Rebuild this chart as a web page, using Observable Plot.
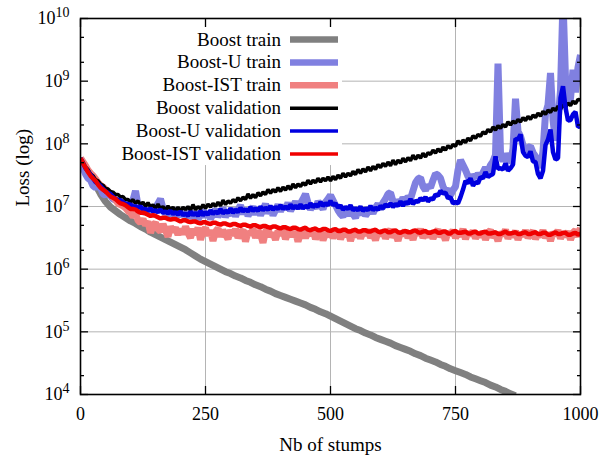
<!DOCTYPE html>
<html><head><meta charset="utf-8">
<script src="https://cdn.jsdelivr.net/npm/d3@7"></script>
<script src="https://cdn.jsdelivr.net/npm/@observablehq/plot@0.6"></script>
<style>body{margin:0;background:#fff}</style>
</head><body><div id="chart"></div>
<script>
// x: number of stumps
const stumps10 = d3.range(0, 1001, 10);   // sampling of the smooth train curve
const stumps5 = d3.range(0, 1001, 5);     // sampling of the noisy curves
// log10(loss)
const boostTrainLog = [7.77,7.60,7.47,7.35,7.20,7.08,6.99,6.93,6.87,6.82,6.77,6.73,6.68,6.64,6.59,6.55,6.51,6.47,6.43,6.39,
6.35,6.31,6.26,6.21,6.16,6.12,6.08,6.04,6.00,5.96,5.93,5.89,5.86,5.82,5.79,5.75,5.72,5.68,5.65,5.61,
5.58,5.55,5.52,5.49,5.46,5.43,5.39,5.36,5.32,5.29,5.25,5.21,5.17,5.13,5.09,5.05,5.02,4.98,4.95,4.91,
4.88,4.85,4.82,4.78,4.75,4.72,4.69,4.65,4.62,4.58,4.55,4.52,4.48,4.45,4.41,4.38,4.35,4.32,4.28,4.25,
4.22,4.19,4.15,4.12,4.08,4.05,4.01,3.98];
const boostUTrainLog = [
7.77,7.62,7.52,7.45,7.42,7.33,7.30,7.34,7.30,7.20,7.18,7.22,7.17,7.12,7.10,7.08,7.07,7.03,7.02,7.05,
7.01,7.10,7.25,7.02,6.94,6.99,6.88,6.96,6.92,6.86,6.98,7.05,7.12,6.97,6.88,6.94,6.85,6.96,6.90,6.84,
6.95,6.84,6.98,6.82,6.90,6.81,6.93,6.80,6.86,6.95,6.83,6.91,6.80,6.88,6.96,6.84,6.90,6.98,6.83,6.92,
6.86,6.97,6.84,6.95,7.02,6.88,6.96,6.85,6.93,7.00,6.87,6.98,6.86,6.95,7.04,6.89,6.97,6.86,6.94,7.03,
6.92,7.02,6.95,7.06,6.93,7.00,7.08,6.97,7.05,7.12,7.20,7.06,6.95,7.03,6.97,7.08,7.02,6.96,7.07,7.12,
7.18,7.10,7.02,6.94,6.88,6.84,6.92,6.86,6.95,6.88,6.82,6.93,6.87,6.96,6.85,6.91,6.97,6.89,6.98,7.04,
6.95,7.06,7.12,7.20,7.22,7.08,7.02,7.10,7.05,7.14,7.08,7.16,7.12,7.25,7.38,7.44,7.46,7.32,7.26,7.34,
7.30,7.42,7.52,7.50,7.45,7.32,7.24,7.28,7.18,7.26,7.32,7.58,7.74,7.66,7.58,7.48,7.42,7.50,7.46,7.52,
7.48,7.54,7.62,7.56,7.66,7.72,7.82,9.28,7.85,7.72,7.84,7.76,7.70,7.92,8.72,8.20,8.12,7.98,7.88,7.94,
7.96,7.86,7.80,7.72,7.62,7.88,8.48,8.62,9.13,8.38,8.05,8.36,8.85,10.3,9.05,8.62,8.72,9.18,8.82,9.22,9.42];
const boostISTTrainLog = [
7.77,7.71,7.65,7.58,7.53,7.49,7.44,7.38,7.34,7.31,7.27,7.23,7.20,7.15,7.11,7.05,7.03,7.01,6.98,6.93,
6.90,6.84,6.88,6.78,6.74,6.80,6.70,6.76,6.58,6.70,6.74,6.64,6.60,6.72,6.62,6.52,6.68,6.60,6.66,6.55,
6.64,6.56,6.68,6.58,6.50,6.64,6.55,6.66,6.47,6.60,6.66,6.54,6.62,6.45,6.60,6.65,6.52,6.62,6.56,6.48,
6.62,6.54,6.64,6.50,6.58,6.63,6.44,6.60,6.55,6.64,6.50,6.61,6.56,6.42,6.60,6.64,6.52,6.58,6.47,6.61,
6.55,6.62,6.48,6.58,6.63,6.52,6.60,6.44,6.57,6.62,6.50,6.59,6.54,6.64,6.48,6.58,6.62,6.46,6.57,6.53,
6.60,6.50,6.58,6.63,6.48,6.57,6.53,6.62,6.45,6.58,6.52,6.61,6.49,6.59,6.55,6.63,6.50,6.57,6.46,6.60,
6.54,6.61,6.49,6.58,6.63,6.51,6.57,6.45,6.60,6.54,6.62,6.50,6.58,6.47,6.61,6.55,6.64,6.50,6.57,6.52,
6.60,6.49,6.58,6.63,6.52,6.57,6.46,6.60,6.55,6.62,6.50,6.58,6.53,6.64,6.48,6.59,6.54,6.61,6.49,6.57,
6.52,6.60,6.47,6.58,6.62,6.51,6.56,6.45,6.59,6.54,6.63,6.49,6.57,6.52,6.61,6.47,6.58,6.53,6.62,6.50,
6.56,6.61,6.48,6.57,6.52,6.62,6.50,6.58,6.45,6.59,6.54,6.62,6.49,6.57,6.53,6.60,6.47,6.58,6.62,6.52,6.66];
const boostValLog = [
7.77,7.71,7.63,7.59,7.52,7.49,7.43,7.41,7.36,7.34,7.29,7.28,7.24,7.23,7.19,7.19,7.15,7.16,7.11,7.11,
7.07,7.11,7.05,7.09,7.03,7.07,7.00,7.06,6.99,7.03,6.97,7.04,6.96,7.00,6.94,7.01,6.95,6.99,6.93,6.99,
6.93,6.99,6.95,7.00,6.94,7.03,6.95,7.00,6.96,7.03,6.97,7.04,6.99,7.05,7.00,7.07,7.01,7.10,7.03,7.09,
7.05,7.11,7.07,7.14,7.09,7.15,7.11,7.20,7.13,7.19,7.14,7.22,7.17,7.23,7.19,7.27,7.21,7.27,7.23,7.30,
7.24,7.31,7.26,7.33,7.27,7.36,7.30,7.36,7.32,7.38,7.34,7.42,7.36,7.42,7.38,7.45,7.39,7.45,7.41,7.47,
7.41,7.48,7.43,7.50,7.45,7.53,7.47,7.53,7.49,7.56,7.51,7.59,7.53,7.60,7.55,7.63,7.57,7.64,7.59,7.67,
7.62,7.69,7.64,7.71,7.65,7.74,7.67,7.74,7.69,7.77,7.71,7.78,7.73,7.82,7.75,7.82,7.77,7.85,7.79,7.86,
7.83,7.90,7.85,7.92,7.87,7.95,7.90,7.97,7.93,7.99,7.96,8.05,7.99,8.06,8.02,8.09,8.05,8.13,8.09,8.15,
8.12,8.19,8.16,8.23,8.19,8.27,8.22,8.29,8.25,8.31,8.27,8.35,8.30,8.36,8.33,8.39,8.35,8.42,8.37,8.44,
8.39,8.46,8.42,8.49,8.44,8.52,8.47,8.54,8.50,8.57,8.53,8.60,8.55,8.63,8.58,8.65,8.61,8.68,8.64,8.71,8.70];
const boostUValLog = [
7.77,7.69,7.61,7.56,7.51,7.45,7.39,7.36,7.33,7.28,7.24,7.22,7.20,7.16,7.12,7.11,7.10,7.07,7.04,7.04,
7.03,7.00,7.00,6.98,7.00,6.95,6.96,6.93,6.97,6.92,6.94,6.91,6.95,6.90,6.92,6.89,6.93,6.88,6.91,6.87,
6.92,6.86,6.89,6.85,6.92,6.86,6.90,6.85,6.93,6.86,6.91,6.87,6.94,6.88,6.92,6.89,6.96,6.89,6.93,6.90,
6.97,6.90,6.95,6.91,6.98,6.92,6.96,6.92,6.99,6.93,6.97,6.93,7.00,6.94,6.98,6.95,7.01,6.95,6.99,6.96,
7.02,6.96,7.00,6.96,7.03,6.97,7.01,6.97,7.03,6.97,7.01,6.98,7.05,6.99,7.03,7.00,7.07,7.01,7.05,7.02,
7.09,7.02,7.05,6.98,7.02,6.95,6.99,6.96,7.02,6.94,6.97,6.94,7.00,6.93,6.97,6.94,7.01,6.94,6.98,6.95,
7.01,6.97,7.03,7.00,7.05,6.99,7.04,7.01,7.08,7.01,7.07,7.04,7.12,7.04,7.09,7.07,7.13,7.10,7.15,7.08,
7.13,7.11,7.19,7.17,7.25,7.21,7.22,7.13,7.15,7.05,7.07,7.05,7.15,7.27,7.41,7.37,7.45,7.33,7.39,7.37,
7.47,7.45,7.55,7.47,7.50,7.52,7.80,7.60,7.61,7.59,7.69,7.57,7.61,7.67,8.08,8.07,8.15,7.87,7.81,7.79,
7.88,7.72,7.71,7.52,7.45,7.57,7.98,8.07,8.23,7.87,7.75,7.77,8.73,8.92,8.58,8.37,8.38,8.47,8.51,8.27,8.28];
const boostISTValLog = [
7.77,7.69,7.62,7.55,7.49,7.45,7.41,7.35,7.30,7.27,7.24,7.20,7.16,7.14,7.12,7.08,7.05,7.04,7.02,6.99,
6.96,6.96,6.95,6.92,6.90,6.90,6.89,6.87,6.85,6.86,6.85,6.83,6.81,6.82,6.82,6.80,6.79,6.80,6.80,6.78,
6.76,6.78,6.78,6.76,6.75,6.76,6.76,6.74,6.73,6.75,6.75,6.73,6.72,6.74,6.74,6.72,6.71,6.73,6.73,6.71,
6.70,6.72,6.72,6.70,6.69,6.71,6.71,6.69,6.68,6.70,6.70,6.68,6.67,6.69,6.69,6.67,6.66,6.68,6.68,6.66,
6.65,6.67,6.67,6.65,6.64,6.66,6.66,6.64,6.63,6.65,6.66,6.63,6.62,6.64,6.65,6.62,6.62,6.64,6.64,6.62,
6.61,6.63,6.64,6.61,6.61,6.63,6.63,6.60,6.60,6.62,6.63,6.60,6.60,6.62,6.62,6.60,6.60,6.62,6.63,6.60,
6.59,6.61,6.62,6.59,6.59,6.61,6.62,6.59,6.58,6.60,6.61,6.59,6.59,6.61,6.62,6.59,6.58,6.60,6.61,6.58,
6.58,6.60,6.61,6.58,6.58,6.60,6.60,6.57,6.57,6.60,6.61,6.58,6.58,6.59,6.60,6.57,6.57,6.59,6.60,6.57,
6.57,6.59,6.60,6.57,6.57,6.58,6.59,6.56,6.56,6.58,6.60,6.57,6.57,6.58,6.59,6.56,6.56,6.58,6.59,6.56,
6.56,6.58,6.59,6.56,6.56,6.58,6.58,6.55,6.55,6.57,6.59,6.56,6.56,6.58,6.58,6.55,6.55,6.57,6.58,6.55,6.57];

const seriesNames = ["Boost train","Boost-U train","Boost-IST train","Boost validation","Boost-U validation","Boost-IST validation"];
const seriesLogs = [boostTrainLog, boostUTrainLog, boostISTTrainLog, boostValLog, boostUValLog, boostISTValLog];
const seriesX = [stumps10, stumps5, stumps5, stumps5, stumps5, stumps5];
const seriesColors = ["#808080","#8080e0","#f08080","#000000","#0000e0","#f00000"];
const seriesWidths = [7, 7, 7, 3.5, 4.5, 4.5];

const xTicks = [0, 250, 500, 750, 1000];
const yMajor = [1e4,1e5,1e6,1e7,1e8,1e9,1e10];
const yMinor = yMajor.slice(0, -1).flatMap(d => [2*d, 5*d]);

const tables = seriesLogs.map((arr, k) => arr.map((v, i) => ({series: seriesNames[k], stump: seriesX[k][i], loss: Math.pow(10, v)})));

const FONT = '"Liberation Serif", "Times New Roman", Times, serif';
const grid = {stroke: "#b4b4b4", strokeWidth: 1};
const blank = () => "";

const plot = Plot.plot({
  width: 603, height: 460,
  marginLeft: 80, marginRight: 23, marginTop: 18, marginBottom: 66,
  style: {fontFamily: FONT, fontSize: "18px", color: "#000", background: "#fff"},
  x: {domain: [0, 1000]},
  y: {type: "log", domain: [1e4, 1e10]},
  marks: [
    Plot.ruleY([1e5, 1e6, 1e7], grid),
    Plot.ruleY([1e8, 1e9], {...grid, x1: 524, x2: 1000}),
    Plot.ruleX([250, 500], {...grid, y1: 1e4, y2: 4.5e7}),
    Plot.ruleX([750], grid),
    ...tables.map((t, k) => Plot.line(t, {x: "stump", y: "loss", stroke: seriesColors[k], strokeWidth: seriesWidths[k], clip: true, strokeLinejoin: "miter", strokeLinecap: "butt"})),
    Plot.frame({stroke: "#000", strokeWidth: 1.6}),
    // inward ticks
    Plot.axisX({anchor: "bottom", ticks: xTicks, tickSize: 8, dy: -8, tickFormat: blank, label: null, strokeWidth: 1.3}),
    Plot.axisX({anchor: "top", ticks: xTicks, tickSize: 8, dy: 8, tickFormat: blank, label: null, strokeWidth: 1.3}),
    Plot.axisY({anchor: "left", ticks: yMajor, tickSize: 8, dx: 8, tickFormat: blank, label: null, strokeWidth: 1.3}),
    Plot.axisY({anchor: "right", ticks: yMajor, tickSize: 8, dx: -8, tickFormat: blank, label: null, strokeWidth: 1.3}),
    Plot.axisY({anchor: "left", ticks: yMinor, tickSize: 4, dx: 4, tickFormat: blank, label: null, strokeWidth: 1.3}),
    Plot.axisY({anchor: "right", ticks: yMinor, tickSize: 4, dx: -4, tickFormat: blank, label: null, strokeWidth: 1.3}),
    // tick labels
    Plot.axisX({anchor: "bottom", ticks: xTicks, tickSize: 0, tickPadding: 13, tickFormat: d => String(d), label: null}),
    Plot.axisY({anchor: "left", ticks: yMajor, tickSize: 0, tickPadding: 11, tickFormat: d => "E" + Math.round(Math.log10(d)), label: null}),
    // axis titles
    Plot.text(["Loss (log)"], {text: d => d, frameAnchor: "left", dx: -58, rotate: -90, fontSize: 19}),
    Plot.text(["Nb of stumps"], {text: d => d, frameAnchor: "bottom", dy: 56, fontSize: 19})
  ]
});

// superscript exponents
d3.select(plot).selectAll("text").each(function() {
  const t = this.textContent;
  if (/^E\d+$/.test(t)) {
    const e = t.slice(1);
    this.textContent = "10";
    d3.select(this).append("tspan").attr("dy", "-7").attr("font-size", "14px").text(e);
  }
});

// legend
const svg = d3.select(plot);
const leg = svg.append("g").attr("font-family", FONT).attr("font-size", 19);
seriesNames.forEach((name, i) => {
  const y = 39.5 + i * 22.9;
  leg.append("text").attr("x", 281).attr("y", y).attr("dy", "0.32em").attr("text-anchor", "end").attr("fill", "#000").text(name);
  leg.append("line").attr("x1", 290).attr("x2", 338).attr("y1", y).attr("y2", y)
    .attr("stroke", seriesColors[i]).attr("stroke-width", i < 3 ? 6.5 : 3.5);
});

document.getElementById("chart").appendChild(plot);
</script>
</body></html>
